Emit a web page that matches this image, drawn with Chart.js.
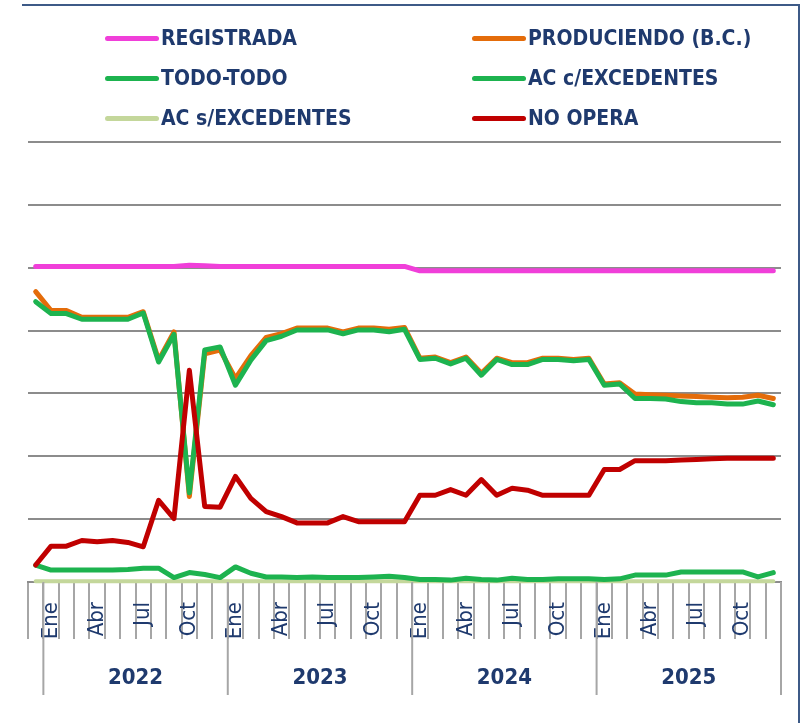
<!DOCTYPE html>
<html>
<head>
<meta charset="utf-8">
<script src="https://cdn.jsdelivr.net/npm/chart.js@4/dist/chart.umd.min.js"></script>
<style>
  body { margin: 0; background: #fff; }
  #wrap { position: relative; width: 803px; height: 723px; overflow: hidden; }
  #frameTop { position: absolute; left: 22px; top: 4px; width: 778px; height: 2px; background: #3d5a87; }
  #frameRight { position: absolute; left: 798px; top: 4px; width: 2px; height: 719px; background: #3d5a87; }
  .leg { position: absolute; height: 24px; display: flex; align-items: center;
         font-family: "Liberation Sans Narrow", "DejaVu Sans Condensed", "Liberation Sans", sans-serif;
         font-weight: bold; font-size: 21px; color: #1f3a6e; white-space: nowrap; }
  .leg span.ln { display: inline-block; width: 54px; height: 5px; border-radius: 3px; margin-right: 2px; }
</style>
</head>
<body>
<div id="wrap">
  <canvas id="chart" width="803" height="723"></canvas>
  <div id="frameTop"></div>
  <div id="frameRight"></div>
  <div id="legend"></div>
</div>
<script>
// categorias: Dic 2021 + Ene 2022 .. Dic 2025
var years = ['2022', '2023', '2024', '2025'];
var months = ['Ene', 'Feb', 'Mar', 'Abr', 'May', 'Jun', 'Jul', 'Ago', 'Sep', 'Oct', 'Nov', 'Dic'];
var shownMonths = ['Ene', 'Abr', 'Jul', 'Oct'];
var categories = ['Dic'];
years.forEach(function() { categories = categories.concat(months); });

var registrada = [50.2, 50.2, 50.2, 50.2, 50.2, 50.2, 50.2, 50.2, 50.2, 50.2, 50.4, 50.3, 50.2,
  50.2, 50.2, 50.2, 50.2, 50.2, 50.2, 50.2, 50.2, 50.2, 50.2, 50.2, 50.2,
  49.5, 49.5, 49.5, 49.5, 49.5, 49.5, 49.5, 49.5, 49.5, 49.5, 49.5, 49.5,
  49.5, 49.5, 49.5, 49.5, 49.5, 49.5, 49.5, 49.5, 49.5, 49.5, 49.5, 49.5];

var produciendo = [46.2, 43.2, 43.2, 42.1, 42.1, 42.1, 42.1, 43.0, 35.3, 39.8, 13.6, 36.3, 36.9,
  32.4, 36.0, 38.9, 39.5, 40.4, 40.4, 40.4, 39.8, 40.4, 40.4, 40.2, 40.5,
  35.6, 35.8, 34.9, 35.8, 33.2, 35.6, 34.9, 34.9, 35.6, 35.6, 35.4, 35.6,
  31.5, 31.7, 29.9, 29.8, 29.7, 29.6, 29.5, 29.4, 29.3, 29.4, 29.7, 29.2];

var todoTodo = [44.6, 42.7, 42.7, 41.8, 41.8, 41.8, 41.8, 42.8, 35.0, 39.4, 14.2, 36.9, 37.4,
  31.3, 35.3, 38.4, 39.1, 40.1, 40.1, 40.1, 39.5, 40.1, 40.1, 39.8, 40.2,
  35.4, 35.6, 34.7, 35.6, 32.9, 35.4, 34.6, 34.6, 35.4, 35.4, 35.2, 35.4,
  31.3, 31.5, 29.2, 29.2, 29.1, 28.7, 28.5, 28.5, 28.3, 28.3, 28.8, 28.2];

var acConExc = [2.7, 1.9, 1.9, 1.9, 1.9, 1.9, 2.0, 2.2, 2.2, 0.7, 1.5, 1.2, 0.7,
  2.4, 1.4, 0.8, 0.8, 0.7, 0.8, 0.7, 0.7, 0.7, 0.8, 0.9, 0.7,
  0.4, 0.4, 0.3, 0.6, 0.4, 0.3, 0.6, 0.4, 0.4, 0.5, 0.5, 0.5,
  0.4, 0.5, 1.1, 1.1, 1.1, 1.6, 1.6, 1.6, 1.6, 1.6, 0.8, 1.5];

var acSinExc = [0.1, 0.1, 0.1, 0.1, 0.1, 0.1, 0.1, 0.1, 0.1, 0.1, 0.1, 0.1, 0.1,
  0.1, 0.1, 0.1, 0.1, 0.1, 0.1, 0.1, 0.1, 0.1, 0.1, 0.1, 0.1,
  0.1, 0.1, 0.1, 0.1, 0.1, 0.1, 0.1, 0.1, 0.1, 0.1, 0.1, 0.1,
  0.1, 0.1, 0.1, 0.1, 0.1, 0.1, 0.1, 0.1, 0.1, 0.1, 0.1, 0.1];

var noOpera = [2.7, 5.7, 5.7, 6.6, 6.4, 6.6, 6.3, 5.6, 13.0, 10.1, 33.7, 12.0, 11.9,
  16.8, 13.3, 11.2, 10.4, 9.4, 9.4, 9.4, 10.4, 9.6, 9.6, 9.6, 9.6,
  13.8, 13.8, 14.7, 13.8, 16.3, 13.8, 14.9, 14.6, 13.8, 13.8, 13.8, 13.8,
  17.9, 17.9, 19.3, 19.3, 19.3, 19.4, 19.5, 19.6, 19.7, 19.7, 19.7, 19.7];

var textColor = '#1f3a6e';
var gridColor = '#8c8c8c';

function serie(label, data, color, order, width) {
    return {
        label: label,
        data: data,
        borderColor: color,
        backgroundColor: color,
        borderWidth: width || 5,
        borderJoinStyle: 'round',
        borderCapStyle: 'round',
        pointRadius: 0,
        tension: 0,
        order: order,
        clip: 8
    };
}

var datasets = [
    serie('REGISTRADA', registrada, '#f03fd9', 5),
    serie('PRODUCIENDO (B.C.)', produciendo, '#e46c0a', 4),
    serie('TODO-TODO', todoTodo, '#1db34f', 1),
    serie('AC c/EXCEDENTES', acConExc, '#1db34f', 2),
    serie('AC s/EXCEDENTES', acSinExc, '#c4d79b', 3, 4),
    serie('NO OPERA', noOpera, '#c00000', 0)
];

// Legend (2 columnas)
var legendPos = [[105, 38], [472, 38], [105, 78], [472, 78], [105, 118], [472, 118]];
var legendHtml = '';
datasets.forEach(function(d, i) {
    legendHtml += '<div class="leg" style="left:' + legendPos[i][0] + 'px;top:' + (legendPos[i][1] - 12) + 'px">' +
        '<span class="ln" style="background:' + d.borderColor + '"></span>' + d.label + '</div>';
});
document.getElementById('legend').innerHTML = legendHtml;

// year row under the month labels
var yearAxis = {
    id: 'yearAxis',
    afterDraw: function(chart) {
        var x = chart.scales.x;
        var ctx = chart.ctx;
        var half = (x.getPixelForValue(1) - x.getPixelForValue(0)) / 2;
        ctx.save();
        ctx.strokeStyle = '#a6a6a6';
        ctx.lineWidth = 2;
        ctx.fillStyle = textColor;
        ctx.font = 'bold 22px "Liberation Sans Narrow", "DejaVu Sans Condensed", sans-serif';
        ctx.textAlign = 'center';
        ctx.textBaseline = 'middle';
        years.forEach(function(y, k) {
            var first = 1 + k * 12;
            var left = x.getPixelForValue(first) - half;
            var right = x.getPixelForValue(first + 11) + half;
            ctx.beginPath();
            ctx.moveTo(left, x.top);
            ctx.lineTo(left, x.top + 113);
            if (k == years.length - 1) {
                ctx.moveTo(right, x.top);
                ctx.lineTo(right, x.top + 113);
            }
            ctx.stroke();
            ctx.fillText(y, (left + right) / 2, x.top + 96);
        });
        ctx.restore();
    }
};

new Chart(document.getElementById('chart'), {
    type: 'line',
    data: { labels: categories, datasets: datasets },
    options: {
        responsive: false,
        animation: false,
        devicePixelRatio: 1,
        layout: { padding: { left: 28, right: 22, top: 142, bottom: 0 } },
        plugins: { legend: { display: false }, tooltip: { enabled: false } },
        scales: {
            x: {
                offset: true,
                grid: { offset: true, drawOnChartArea: false, drawTicks: true, tickLength: 57, color: '#a6a6a6', lineWidth: 2 },
                border: { display: true, color: gridColor, width: 2 },
                ticks: {
                    autoSkip: false,
                    minRotation: 90,
                    maxRotation: 90,
                    padding: -37,
                    color: textColor,
                    font: { family: '"Liberation Sans Narrow", "DejaVu Sans Condensed", sans-serif', size: 22 },
                    callback: function(val, idx) {
                        var m = categories[idx];
                        return shownMonths.indexOf(m) >= 0 && idx > 0 ? m : '';
                    }
                },
                afterFit: function(s) { s.height = 141; }
            },
            y: {
                min: 0,
                max: 70,
                ticks: { display: false, stepSize: 10 },
                grid: { color: gridColor, lineWidth: 2, drawTicks: false },
                border: { display: false },
                afterFit: function(s) { s.width = 0; }
            }
        }
    },
    plugins: [yearAxis]
});
</script>
</body>
</html>
